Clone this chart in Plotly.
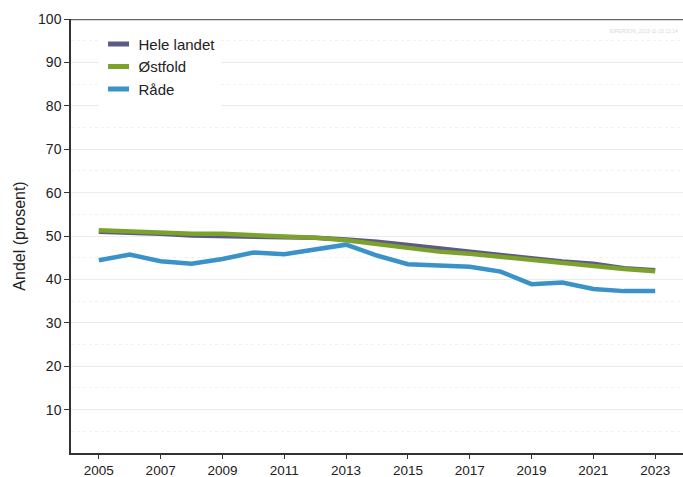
import plotly.graph_objects as go

years = list(range(2005, 2024))
hele_landet = [51.0, 50.8, 50.5, 50.1, 50.0, 49.9, 49.7, 49.6, 49.2, 48.7, 47.9, 47.1, 46.5, 45.7, 44.9, 44.1, 43.6, 42.6, 42.1]
ostfold = [51.3, 51.0, 50.8, 50.5, 50.5, 50.2, 49.9, 49.6, 49.0, 48.2, 47.3, 46.4, 45.9, 45.2, 44.5, 43.7, 43.2, 42.4, 41.9]
rade = [44.4, 45.7, 44.2, 43.6, 44.7, 46.2, 45.8, 47.0, 48.0, 45.5, 43.5, 43.2, 42.9, 41.8, 38.9, 39.3, 37.8, 37.3, 37.3]
series_names = ["Hele landet", "Østfold", "Råde"]
colors = ["#5E5A86", "#7BA22B", "#3B92C9"]
ytickvals = list(range(10, 101, 10))
xtickvals = list(range(2005, 2024, 2))

fig = go.Figure()
for name, vals, col in zip(series_names, [hele_landet, ostfold, rade], colors):
    fig.add_trace(go.Scatter(x=years, y=vals, mode="lines", name=name, showlegend=False,
                             line=dict(color=col, width=4.5)))
for name, col in zip(series_names, colors):
    fig.add_trace(go.Scatter(x=[None], y=[None], mode="markers", name=name,
                             marker=dict(symbol="line-ew", size=15, color=col,
                                         line=dict(color=col, width=5.5))))

fig.update_layout(
    width=683, height=477,
    margin=dict(l=71, r=0, t=19, b=24),
    paper_bgcolor="white", plot_bgcolor="white",
    font=dict(family="Liberation Sans, Arial, sans-serif", size=14, color="#222"),
    showlegend=True,
    legend=dict(x=0.045, y=0.98, xanchor="left", yanchor="top",
                bgcolor="white", font=dict(size=15, color="#222"),
                itemwidth=30, tracegroupgap=0),
    xaxis=dict(range=[2004.1, 2023.9], tickvals=xtickvals, ticks="outside",
               ticklen=4, tickcolor="#333", showgrid=False, showline=True,
               linecolor="#333", linewidth=1.5, zeroline=False, automargin=False,
               tickfont=dict(size=13.5, color="#222")),
    yaxis=dict(range=[0, 100], tickvals=ytickvals, ticks="outside",
               ticklen=5, tickcolor="#333", showgrid=True, gridcolor="#EBEBEB",
               gridwidth=1, showline=True, linecolor="#333", linewidth=1.5,
               zeroline=False, automargin=False,
               title=dict(text="Andel (prosent)", font=dict(size=16, color="#222"), standoff=8),
               tickfont=dict(size=14, color="#222"),
               minor=dict(tickvals=list(range(5, 100, 10)), showgrid=True,
                          gridcolor="#F2F2F2", griddash="dot", gridwidth=1)),
)
fig.add_shape(type="line", xref="paper", yref="y", x0=0, x1=1, y0=100, y1=100,
              line=dict(color="#666", width=2.5), layer="above")
fig.add_annotation(text="EIPERSON_2023-11-15 13:14", xref="paper", yref="paper",
                   x=0.995, y=0.985, xanchor="right", yanchor="top", showarrow=False,
                   font=dict(size=5, color="#D8D8D8"))
fig.write_html("out.html", config={"displayModeBar": False})
with open("out.html", encoding="utf-8") as f:
    html = f.read()
html = html.replace("<head>", "<head><style>html,body{margin:0;padding:0;overflow:hidden}</style>", 1)
with open("out.html", "w", encoding="utf-8") as f:
    f.write(html)
